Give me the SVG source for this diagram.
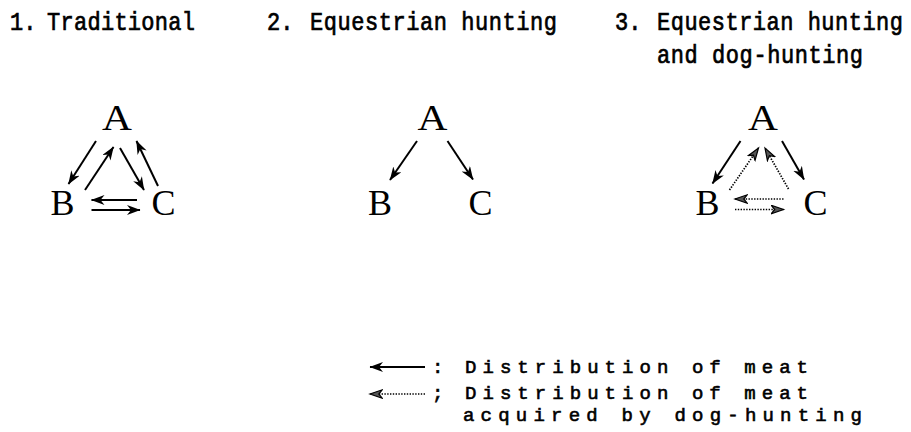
<svg xmlns="http://www.w3.org/2000/svg" width="911" height="432" viewBox="0 0 911 432">
<style>
.title{font-family:"Liberation Mono","DejaVu Sans Mono",monospace;font-size:22px;fill:#000;stroke:#000;stroke-width:0.6}
.node{font-family:"Liberation Serif","DejaVu Serif",serif;font-size:36px;fill:#000;text-anchor:middle}
.leg{font-family:"Liberation Mono","DejaVu Sans Mono",monospace;font-size:19px;fill:#000;stroke:#000;stroke-width:0.6}
.solid{stroke:#000;stroke-width:2;fill:none;marker-end:url(#hs)}
.dot{stroke:#000;stroke-width:1.7;fill:none;stroke-dasharray:1.4 1.4;marker-end:url(#hd)}
</style>
<defs>
<marker id="hs" markerUnits="userSpaceOnUse" markerWidth="16" markerHeight="12" refX="13" refY="5" orient="auto">
<path d="M0,0 L13.5,5 L0,10 L4,5 Z" fill="#000"/>
</marker>
<marker id="hd" markerUnits="userSpaceOnUse" markerWidth="16" markerHeight="12" refX="13" refY="5" orient="auto">
<path d="M0.8,0.8 L13,5 L0.8,9.2 L4.2,5 Z" fill="#555" stroke="#000" stroke-width="1.2"/>
</marker>
</defs>
<g id="titles">
<text class="title" transform="translate(0,30) scale(1,1.2)"><tspan x="10">1.</tspan><tspan x="47" textLength="148" lengthAdjust="spacing">Traditional</tspan></text>
<text class="title" transform="translate(0,30) scale(1,1.2)"><tspan x="267">2.</tspan><tspan x="310" textLength="247" lengthAdjust="spacing">Equestrian hunting</tspan></text>
<text class="title" transform="translate(0,30) scale(1,1.2)"><tspan x="615">3.</tspan><tspan x="657" textLength="246" lengthAdjust="spacing">Equestrian hunting</tspan></text>
<text class="title" transform="translate(0,63) scale(1,1.2)"><tspan x="657" textLength="206" lengthAdjust="spacing">and dog-hunting</tspan></text>
</g>
<g id="d1-A"><text class="node" x="117" y="130" transform="translate(117,0) scale(1.15,1) translate(-117,0)">A</text></g>
<g id="d1-B"><text class="node" x="62.5" y="215">B</text></g>
<g id="d1-C"><text class="node" x="163.5" y="215">C</text></g>
<g id="d2-A"><text class="node" x="432.5" y="130" transform="translate(432.5,0) scale(1.15,1) translate(-432.5,0)">A</text></g>
<g id="d2-B"><text class="node" x="380" y="215">B</text></g>
<g id="d2-C"><text class="node" x="480.5" y="215">C</text></g>
<g id="d3-A"><text class="node" x="763" y="130" transform="translate(763,0) scale(1.15,1) translate(-763,0)">A</text></g>
<g id="d3-B"><text class="node" x="707.5" y="215">B</text></g>
<g id="d3-C"><text class="node" x="815.5" y="215">C</text></g>
<g id="connectors">
<line class="solid" x1="96" y1="141" x2="68.5" y2="184"/>
<line class="solid" x1="85" y1="190" x2="113.5" y2="147"/>
<line class="solid" x1="120" y1="148" x2="144" y2="190"/>
<line class="solid" x1="158" y1="186" x2="136.5" y2="141"/>
<line class="solid" x1="137" y1="200" x2="91.5" y2="200"/>
<line class="solid" x1="91.5" y1="210" x2="140" y2="210"/>
<line class="solid" x1="417" y1="141" x2="390" y2="180"/>
<line class="solid" x1="447.5" y1="141" x2="473" y2="179.5"/>
<line class="solid" x1="740.5" y1="141" x2="712.5" y2="183.5"/>
<line class="solid" x1="782" y1="141" x2="804" y2="179.5"/>
<line class="dot" x1="729.5" y1="190" x2="758.5" y2="148"/>
<line class="dot" x1="788.5" y1="189" x2="765" y2="148"/>
<line class="dot" x1="783.5" y1="199" x2="735" y2="199"/>
<line class="dot" x1="735" y1="209.5" x2="783.5" y2="209.5"/>
</g>
<g id="legend">
<line class="solid" x1="425" y1="367" x2="370" y2="367"/>
<text class="leg" x="432" y="373">:</text>
<text class="leg" x="465" y="373" textLength="343" lengthAdjust="spacing">Distribution of meat</text>
<line class="dot" x1="425" y1="394" x2="370" y2="394"/>
<text class="leg" x="432" y="399">;</text>
<text class="leg" x="465" y="399" textLength="343" lengthAdjust="spacing">Distribution of meat</text>
<text class="leg" x="463" y="421" textLength="399" lengthAdjust="spacing">acquired by dog-hunting</text>
</g>
</svg>
